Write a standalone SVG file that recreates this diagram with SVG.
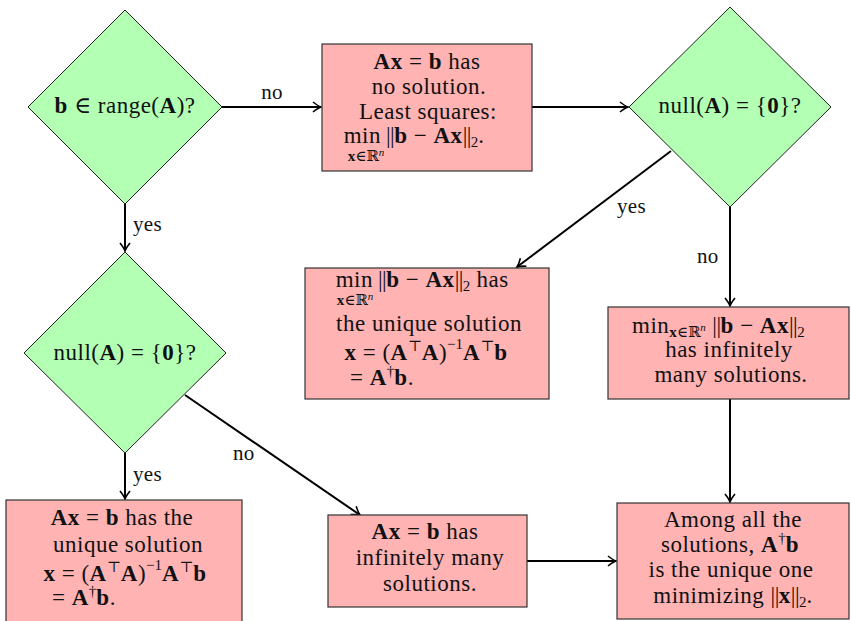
<svg xmlns="http://www.w3.org/2000/svg" width="851" height="621" viewBox="0 0 851 621">
<style>
.dec{fill:#b3ffb3;stroke:#222;stroke-width:1}
.box{fill:#ffb3b3;stroke:#333;stroke-width:1.2}
text{font-family:"Liberation Serif","DejaVu Serif",serif;font-size:23px;letter-spacing:0.5px;fill:#111}
.c{text-anchor:middle}
.e{text-anchor:end}
.b{font-weight:bold}
.s{font-size:15px;letter-spacing:0}
.n{letter-spacing:-0.5px}
.lbl{font-size:21px;letter-spacing:0.3px}
.edge{stroke:#000;stroke-width:2;fill:none;marker-end:url(#ah)}
</style>
<defs>
<marker id="ah" markerUnits="userSpaceOnUse" orient="auto" viewBox="-10 -6 12 12" refX="0" refY="0" markerWidth="12" markerHeight="12" overflow="visible">
<path d="M-8,-5 Q-3,-1 0,0 Q-3,1 -8,5" fill="none" stroke="#000" stroke-width="1.6"/>
</marker>
</defs>

<g id="connectors">
<line class="edge" x1="222" y1="107" x2="321" y2="107"/>
<line class="edge" x1="532" y1="107" x2="628" y2="107"/>
<line class="edge" x1="125" y1="204" x2="125" y2="251"/>
<line class="edge" x1="671" y1="151" x2="517" y2="267"/>
<line class="edge" x1="730" y1="207" x2="730" y2="306"/>
<line class="edge" x1="730" y1="399" x2="730" y2="502"/>
<line class="edge" x1="125" y1="453" x2="125" y2="499"/>
<line class="edge" x1="185" y1="395" x2="360" y2="515"/>
<line class="edge" x1="527" y1="561" x2="616" y2="561"/>
<text class="lbl c" x="272" y="99">no</text>
<text class="lbl" x="133" y="231">yes</text>
<text class="lbl" x="617" y="213">yes</text>
<text class="lbl" x="697" y="263">no</text>
<text class="lbl" x="233" y="460">no</text>
<text class="lbl" x="133" y="481">yes</text>
</g>

<g id="d1">
<polygon class="dec" points="125,10 222,107 125,204 28,107"/>
<text class="c" x="125" y="113"><tspan class="b">b</tspan> ∈ range(<tspan class="b">A</tspan>)?</text>
</g>

<g id="b1">
<rect class="box" x="322" y="44" width="210" height="127"/>
<text class="c" x="427" y="69"><tspan class="b">Ax</tspan> = <tspan class="b">b</tspan> has</text>
<text class="c" x="429" y="94">no solution.</text>
<text class="c" x="428" y="119">Least squares:</text>
<text class="e" x="381" y="143">min</text>
<text class="s c" x="366" y="161"><tspan class="b">x</tspan>∈ℝ<tspan font-style="italic" font-size="11" dy="-5">n</tspan></text>
<text x="386" y="143"><tspan class="n">||</tspan><tspan class="b">b</tspan> − <tspan class="b">Ax</tspan><tspan class="n">||</tspan><tspan class="s" dy="4">2</tspan><tspan dy="-4">.</tspan></text>
</g>

<g id="d2">
<polygon class="dec" points="730,7 831,107 730,207 629,107"/>
<text class="c" x="730" y="113">null(<tspan class="b">A</tspan>) = {<tspan class="b">0</tspan>}?</text>
</g>

<g id="b3">
<rect class="box" x="305" y="268" width="244" height="131"/>
<text class="e" x="373" y="287">min</text>
<text class="s c" x="355" y="305"><tspan class="b">x</tspan>∈ℝ<tspan font-style="italic" font-size="11" dy="-5">n</tspan></text>
<text x="378" y="287"><tspan class="n">||</tspan><tspan class="b">b</tspan> − <tspan class="b">Ax</tspan><tspan class="n">||</tspan><tspan class="s" dy="4">2</tspan><tspan dy="-4"> has</tspan></text>
<text class="c" x="429" y="331">the unique solution</text>
<text class="c" x="426" y="360"><tspan class="b">x</tspan> = (<tspan class="b">A</tspan><tspan class="s" dy="-9">⊤</tspan><tspan class="b" dy="9">A</tspan>)<tspan class="s" dy="-11">−1</tspan><tspan class="b" dy="11">A</tspan><tspan class="s" dy="-9">⊤</tspan><tspan class="b" dy="9">b</tspan></text>
<text x="350" y="385">= <tspan class="b">A</tspan><tspan class="s" dy="-9">†</tspan><tspan class="b" dy="9">b</tspan>.</text>
</g>

<g id="b4">
<rect class="box" x="608" y="307" width="241" height="92"/>
<text x="632" y="333">min<tspan class="s" dy="4"><tspan class="b">x</tspan>∈ℝ</tspan><tspan font-style="italic" font-size="11" dy="-6">n</tspan><tspan dy="2" dx="6"><tspan class="n">||</tspan></tspan><tspan class="b">b</tspan> − <tspan class="b">Ax</tspan><tspan class="n">||</tspan><tspan class="s" dy="4">2</tspan></text>
<text class="c" x="729" y="357">has infinitely</text>
<text class="c" x="731" y="382">many solutions.</text>
</g>

<g id="d3">
<polygon class="dec" points="125,252 226,353 125,453 24,353"/>
<text class="c" x="125" y="360">null(<tspan class="b">A</tspan>) = {<tspan class="b">0</tspan>}?</text>
</g>

<g id="b5">
<rect class="box" x="6" y="500" width="236" height="130"/>
<text class="c" x="122" y="525"><tspan class="b">Ax</tspan> = <tspan class="b">b</tspan> has the</text>
<text class="c" x="128" y="552">unique solution</text>
<text class="c" x="125" y="581"><tspan class="b">x</tspan> = (<tspan class="b">A</tspan><tspan class="s" dy="-9">⊤</tspan><tspan class="b" dy="9">A</tspan>)<tspan class="s" dy="-11">−1</tspan><tspan class="b" dy="11">A</tspan><tspan class="s" dy="-9">⊤</tspan><tspan class="b" dy="9">b</tspan></text>
<text x="52" y="605">= <tspan class="b">A</tspan><tspan class="s" dy="-9">†</tspan><tspan class="b" dy="9">b</tspan>.</text>
</g>

<g id="b7">
<rect class="box" x="328" y="515" width="199" height="92"/>
<text class="c" x="425" y="539"><tspan class="b">Ax</tspan> = <tspan class="b">b</tspan> has</text>
<text class="c" x="430" y="565">infinitely many</text>
<text class="c" x="430" y="591">solutions.</text>
</g>

<g id="b6">
<rect class="box" x="617" y="503" width="232" height="116"/>
<text class="c" x="733" y="527">Among all the</text>
<text class="c" x="730" y="552">solutions, <tspan class="b">A</tspan><tspan class="s" dy="-9">†</tspan><tspan class="b" dy="9">b</tspan></text>
<text class="c" x="731" y="577">is the unique one</text>
<text class="c" x="733" y="603">minimizing <tspan class="n">||</tspan><tspan class="b">x</tspan><tspan class="n">||</tspan><tspan class="s" dy="4">2</tspan><tspan dy="-4">.</tspan></text>
</g>
</svg>
